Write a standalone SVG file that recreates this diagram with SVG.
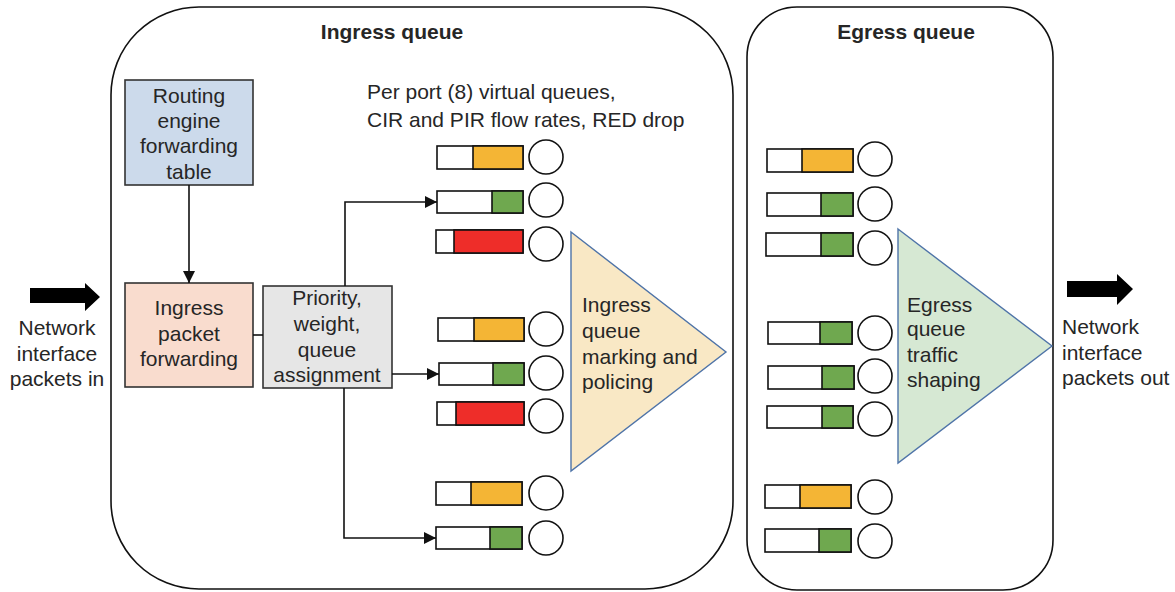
<svg xmlns="http://www.w3.org/2000/svg" width="1175" height="592" viewBox="0 0 1175 592">
<defs>
<style>
text{font-family:"Liberation Sans",Arial,sans-serif;font-size:21px;fill:#262626}
.t{font-weight:bold;text-anchor:middle}
.c{text-anchor:middle}
.frame{fill:#fff;stroke:#111;stroke-width:1.6}
.box{stroke:#333;stroke-width:1.6}
.qw{fill:#fff;stroke:#111;stroke-width:1.6}
.o{fill:#F4B535;stroke:#111;stroke-width:1.6}
.g{fill:#6FA84F;stroke:#111;stroke-width:1.6}
.r{fill:#EE2D29;stroke:#111;stroke-width:1.6}
.cir{fill:#fff;stroke:#111;stroke-width:1.6}
.ln{fill:none;stroke:#111;stroke-width:1.6}
.tri{stroke:#4F74A8;stroke-width:1.4}
</style>
<marker id="ah2" viewBox="0 0 10 10" refX="10" refY="5" markerWidth="12" markerHeight="12" markerUnits="userSpaceOnUse" orient="auto">
<path d="M0,0 L10,5 L0,10 z" fill="#111"/>
</marker>
</defs>

<g id="ingress-frame">
<rect class="frame" x="111" y="7" width="622" height="582" rx="88" ry="88"/>
<text class="t" x="392" y="39">Ingress queue</text>
</g>
<g id="egress-frame">
<rect class="frame" x="747" y="7" width="306" height="583" rx="50" ry="50"/>
<text class="t" x="906" y="39">Egress queue</text>
</g>

<g id="in-arrow">
<polygon points="30,288 85,288 85,283 100,297 85,311 85,303 30,303" fill="#000"/>
<text class="c" x="57" y="335">Network</text>
<text class="c" x="57" y="361">interface</text>
<text class="c" x="57" y="386">packets in</text>
</g>
<g id="out-arrow">
<polygon points="1067,281 1117,281 1117,274 1133,289 1117,305 1117,297 1067,297" fill="#000"/>
<text x="1062" y="334">Network</text>
<text x="1062" y="360">interface</text>
<text x="1062" y="385">packets out</text>
</g>

<g id="routing-engine">
<rect class="box" x="125" y="80" width="128" height="105" fill="#CCDAEB"/>
<text class="c" x="189" y="103">Routing</text>
<text class="c" x="189" y="128">engine</text>
<text class="c" x="189" y="153">forwarding</text>
<text class="c" x="189" y="179">table</text>
</g>
<g id="ingress-packet-forwarding">
<rect class="box" x="125" y="283" width="128" height="104" fill="#F9DCCE"/>
<text class="c" x="189" y="315">Ingress</text>
<text class="c" x="189" y="341">packet</text>
<text class="c" x="189" y="366">forwarding</text>
</g>
<g id="priority">
<rect class="box" x="263" y="286" width="129" height="102" fill="#E6E6E6"/>
<text class="c" x="327" y="305">Priority,</text>
<text class="c" x="327" y="331">weight,</text>
<text class="c" x="327" y="357">queue</text>
<text class="c" x="327" y="382">assignment</text>
</g>

<g id="ingress-note">
<text x="367" y="99">Per port (8) virtual queues,</text>
<text x="367" y="127">CIR and PIR flow rates, RED drop</text>
</g>

<g id="connectors">
<line class="ln" x1="189" y1="185" x2="189" y2="283" stroke-width="2" marker-end="url(#ah2)"/>
<line class="ln" x1="253" y1="335" x2="263" y2="335"/>
<polyline class="ln" points="345,286 345,202 437,202" marker-end="url(#ah2)"/>
<line class="ln" x1="392" y1="374" x2="439" y2="374" marker-end="url(#ah2)"/>
<polyline class="ln" points="344,388 344,538 436,538" marker-end="url(#ah2)"/>
</g>

<g id="ingress-queues">
<rect class="qw" x="437" y="146" width="86" height="23"/><rect class="o" x="473" y="146" width="50" height="23"/><circle class="cir" cx="546" cy="157" r="17"/>
<rect class="qw" x="437" y="191" width="86" height="22"/><rect class="g" x="492" y="191" width="31" height="22"/><circle class="cir" cx="546" cy="200" r="17"/>
<rect class="qw" x="436" y="230" width="87" height="23"/><rect class="r" x="454" y="230" width="69" height="23"/><circle class="cir" cx="546" cy="244" r="17"/>
<rect class="qw" x="438" y="318" width="86" height="23"/><rect class="o" x="474" y="318" width="50" height="23"/><circle class="cir" cx="546" cy="329" r="17"/>
<rect class="qw" x="439" y="363" width="85" height="22"/><rect class="g" x="493" y="363" width="31" height="22"/><circle class="cir" cx="546" cy="373" r="17"/>
<rect class="qw" x="437" y="402" width="87" height="23"/><rect class="r" x="456" y="402" width="68" height="23"/><circle class="cir" cx="546" cy="416" r="17"/>
<rect class="qw" x="436" y="482" width="86" height="23"/><rect class="o" x="471" y="482" width="51" height="23"/><circle class="cir" cx="546" cy="493" r="17"/>
<rect class="qw" x="436" y="527" width="86" height="22"/><rect class="g" x="490" y="527" width="32" height="22"/><circle class="cir" cx="546" cy="538" r="17"/>
</g>

<g id="ingress-policing">
<polygon class="tri" points="571,232 726,352 571,471" fill="#F9E8C5"/>
<text x="582" y="312">Ingress</text>
<text x="582" y="338">queue</text>
<text x="582" y="364">marking and</text>
<text x="582" y="389">policing</text>
</g>

<g id="egress-queues">
<rect class="qw" x="767" y="149" width="86" height="23"/><rect class="o" x="802" y="149" width="51" height="23"/><circle class="cir" cx="875" cy="159" r="17"/>
<rect class="qw" x="767" y="193" width="86" height="23"/><rect class="g" x="821" y="193" width="32" height="23"/><circle class="cir" cx="875" cy="204" r="17"/>
<rect class="qw" x="766" y="233" width="87" height="23"/><rect class="g" x="821" y="233" width="32" height="23"/><circle class="cir" cx="875" cy="248" r="17"/>
<rect class="qw" x="768" y="322" width="84" height="22"/><rect class="g" x="820" y="322" width="32" height="22"/><circle class="cir" cx="875" cy="333" r="17"/>
<rect class="qw" x="768" y="366" width="86" height="23"/><rect class="g" x="822" y="366" width="32" height="23"/><circle class="cir" cx="875" cy="376" r="17"/>
<rect class="qw" x="767" y="406" width="86" height="22"/><rect class="g" x="822" y="406" width="31" height="22"/><circle class="cir" cx="875" cy="419" r="17"/>
<rect class="qw" x="765" y="485" width="86" height="23"/><rect class="o" x="800" y="485" width="51" height="23"/><circle class="cir" cx="875" cy="497" r="17"/>
<rect class="qw" x="765" y="529" width="86" height="23"/><rect class="g" x="819" y="529" width="32" height="23"/><circle class="cir" cx="875" cy="541" r="17"/>
</g>

<g id="egress-shaping">
<polygon class="tri" points="898,229 1052,346 898,463" fill="#D6E8D3"/>
<text x="907" y="312">Egress</text>
<text x="907" y="336">queue</text>
<text x="907" y="362">traffic</text>
<text x="907" y="387">shaping</text>
</g>
</svg>
